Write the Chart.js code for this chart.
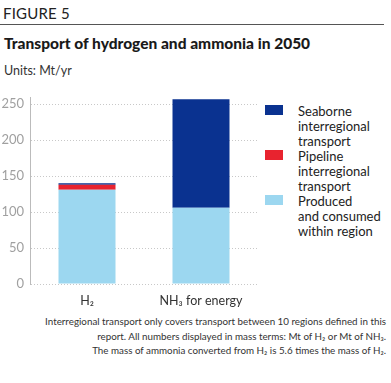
<!DOCTYPE html>
<html>
<head>
<meta charset="utf-8">
<script src="https://cdn.jsdelivr.net/npm/chart.js@4"></script>
<style>
  body { margin: 0; width: 391px; height: 383px; background: #fff; font-family: Lato, "Open Sans", sans-serif; color: #222; position: relative; overflow: hidden; }
  #fig { position: absolute; left: 3px; top: 4px; font-size: 15px; letter-spacing: 0.2px; color: #222; }
  #rule { position: absolute; left: 0; top: 24px; width: 384px; height: 1px; background: #555; }
  #title { position: absolute; left: 4px; top: 34px; font-size: 15.5px; font-weight: 900; color: #1a1a1a; }
  #units { position: absolute; left: 4px; top: 63px; font-size: 12.5px; color: #333; }
  #box { position: absolute; left: 0; top: 80px; width: 262px; height: 234px; }
  #legend { position: absolute; left: 265px; top: 104px; font-size: 13px; line-height: 15px; color: #222; }
  .item { position: relative; padding-left: 33px; }
  .sw { position: absolute; left: 0; top: 1px; width: 18px; height: 10px; }
  #note { position: absolute; right: 5px; top: 314px; font-size: 9.8px; line-height: 14.7px; color: #333; text-align: right; }
</style>
</head>
<body>
<div id="fig">FIGURE 5</div>
<div id="rule"></div>
<div id="title">Transport of hydrogen and ammonia in 2050</div>
<div id="units">Units: Mt/yr</div>
<div id="box"><canvas id="myChart"></canvas></div>
<div id="legend"></div>
<div id="note">Interregional transport only covers transport between 10 regions defined in this<br>report. All numbers displayed in mass terms: Mt of H₂ or Mt of NH₃.<br>The mass of ammonia converted from H₂ is 5.6 times the mass of H₂.</div>
<script>
const categories = ["H₂", "NH₃ for energy"]
const produced = [131, 106]
const pipeline = [7, 0]
const seaborne = [2, 151]
const yTicks = [0, 50, 100, 150, 200, 250]

const seriesNames = [
  ["Produced", "and consumed", "within region"],
  ["Pipeline", "interregional", "transport"],
  ["Seaborne", "interregional", "transport"]
]
const colors = ["#9cd7f0", "#e8232f", "#0a3290"]

const datasets = [produced, pipeline, seaborne].map((data, i) => {
  return {
    label: seriesNames[i].join(" "),
    data,
    backgroundColor: colors[i],
    borderWidth: 0,
    barPercentage: 0.5,
    categoryPercentage: 1
  }
})

// legend, top to bottom = reverse stack order
const legend = document.getElementById("legend")
for (let i = 2; i >= 0; i--) {
  const div = document.createElement("div")
  div.className = "item"
  div.innerHTML = '<span class="sw" style="background:' + colors[i] + '"></span>' + seriesNames[i].join("<br>")
  legend.appendChild(div)
}

new Chart(document.getElementById("myChart"), {
  type: "bar",
  data: { labels: categories, datasets },
  options: {
    responsive: true,
    maintainAspectRatio: false,
    animation: false,
    layout: { padding: { top: 17, right: 4, left: 0, bottom: 0 } },
    plugins: { legend: { display: false }, tooltip: { enabled: false } },
    scales: {
      x: {
        stacked: true,
        grid: { display: false },
        border: { display: false },
        ticks: { color: "#333", font: { family: "Lato", size: 12.5 }, padding: 1 },
        afterFit: (s) => { s.height = 30 }
      },
      y: {
        stacked: true,
        min: 0,
        max: 260,
        afterBuildTicks: (s) => { s.ticks = yTicks.map((v) => ({ value: v })) },
        grid: { color: "#c8c8c8", lineWidth: 1, drawTicks: false },
        border: { display: true, color: "#bbb", dash: [1, 2] },
        ticks: { color: "#a0a0a0", font: { family: "Lato", size: 13 }, padding: 6 },
        afterFit: (s) => { s.width = 30 }
      }
    }
  }
})
</script>
</body>
</html>
